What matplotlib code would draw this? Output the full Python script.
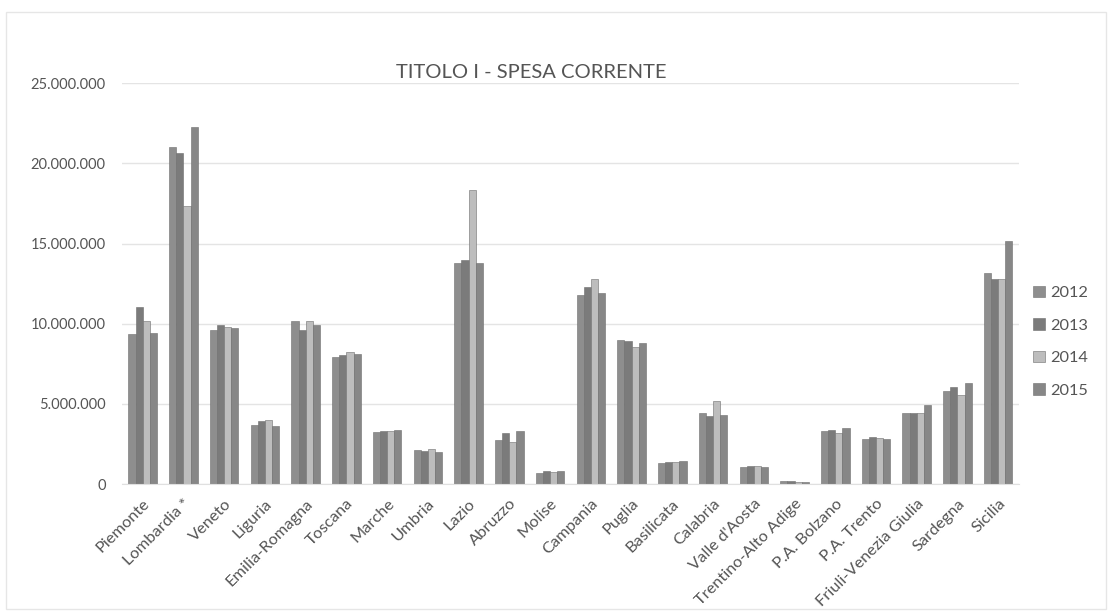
import numpy as np
import matplotlib
matplotlib.use('Agg')
import matplotlib.pyplot as plt
from matplotlib.ticker import FuncFormatter

regioni = ['Piemonte', 'Lombardia *', 'Veneto', 'Liguria', 'Emilia-Romagna', 'Toscana',
           'Marche', 'Umbria', 'Lazio', 'Abruzzo', 'Molise', 'Campania', 'Puglia',
           'Basilicata', 'Calabria', "Valle d'Aosta", 'Trentino-Alto Adige',
           'P.A. Bolzano', 'P.A. Trento', 'Friuli-Venezia Giulia', 'Sardegna', 'Sicilia']

# values in euro
v2012 = [9360000, 21000000, 9610000, 3660000, 10150000, 7900000, 3250000, 2120000,
         13810000, 2750000, 700000, 11770000, 8990000, 1290000, 4410000, 1040000,
         170000, 3280000, 2830000, 4410000, 5780000, 13150000]
v2013 = [11070000, 20680000, 9940000, 3950000, 9610000, 8070000, 3280000, 2080000,
         13980000, 3160000, 830000, 12270000, 8940000, 1370000, 4260000, 1120000,
         170000, 3370000, 2950000, 4450000, 6070000, 12770000]
v2014 = [10150000, 17350000, 9820000, 3990000, 10150000, 8240000, 3280000, 2200000,
         18350000, 2620000, 750000, 12770000, 8530000, 1370000, 5160000, 1120000,
         150000, 3160000, 2870000, 4450000, 5530000, 12770000]
v2015 = [9400000, 22260000, 9740000, 3620000, 9900000, 8110000, 3370000, 2000000,
         13810000, 3280000, 830000, 11940000, 8820000, 1410000, 4330000, 1080000,
         120000, 3500000, 2830000, 4950000, 6320000, 15140000]

anni = ['2012', '2013', '2014', '2015']
serie = [v2012, v2013, v2014, v2015]
colori = ['#8e8e8e', '#7b7b7b', '#bdbdbd', '#878787']

plt.rcParams['font.family'] = ['Lato', 'DejaVu Sans']

fig = plt.figure(figsize=(11.12, 6.12), dpi=100)
ax = fig.add_axes([0.11, 0.209, 0.806, 0.655])

x = np.arange(len(regioni))
w = 0.175
for i, (anno, vals, c) in enumerate(zip(anni, serie, colori)):
    ax.bar(x + (i - 1.5) * w, vals, width=w, color=c, label=anno,
           edgecolor='#6e6e6e', linewidth=0.4)

ax.set_xlim(-0.5, len(regioni) - 0.5)
ax.set_ylim(0, 25000000)
ax.set_yticks(np.arange(0, 25000001, 5000000))
ax.yaxis.set_major_formatter(FuncFormatter(lambda v, p: '{:,.0f}'.format(v).replace(',', '.')))
ax.grid(axis='y', color='#e4e4e4', linewidth=1)
ax.set_axisbelow(True)
for s in ['top', 'right', 'left']:
    ax.spines[s].set_visible(False)
ax.spines['bottom'].set_color('#e0e0e0')
ax.tick_params(axis='both', length=0, colors='#555555', labelsize=10.5)
ax.tick_params(axis='y', pad=12)
ax.tick_params(axis='x', labelsize=11.8, pad=9)
ax.set_xticks(x)
ax.set_xticklabels(regioni, rotation=45, ha='right', rotation_mode='anchor')

fig.text(0.478, 0.882, 'TITOLO I - SPESA CORRENTE', ha='center', va='center',
         fontsize=14.5, color='#555555')

leg = ax.legend(loc='center left', bbox_to_anchor=(1.0, 0.355), frameon=False,
                fontsize=11.8, handlelength=0.7, handleheight=0.7, labelspacing=1.1,
                handletextpad=0.3, labelcolor='#555555')

# light frame around the chart
fig.patches.append(plt.Rectangle((0.005, 0.005), 0.99, 0.975, transform=fig.transFigure,
                                 fill=False, edgecolor='#e6e6e6', linewidth=1))

plt.savefig('out.png', dpi=100)
